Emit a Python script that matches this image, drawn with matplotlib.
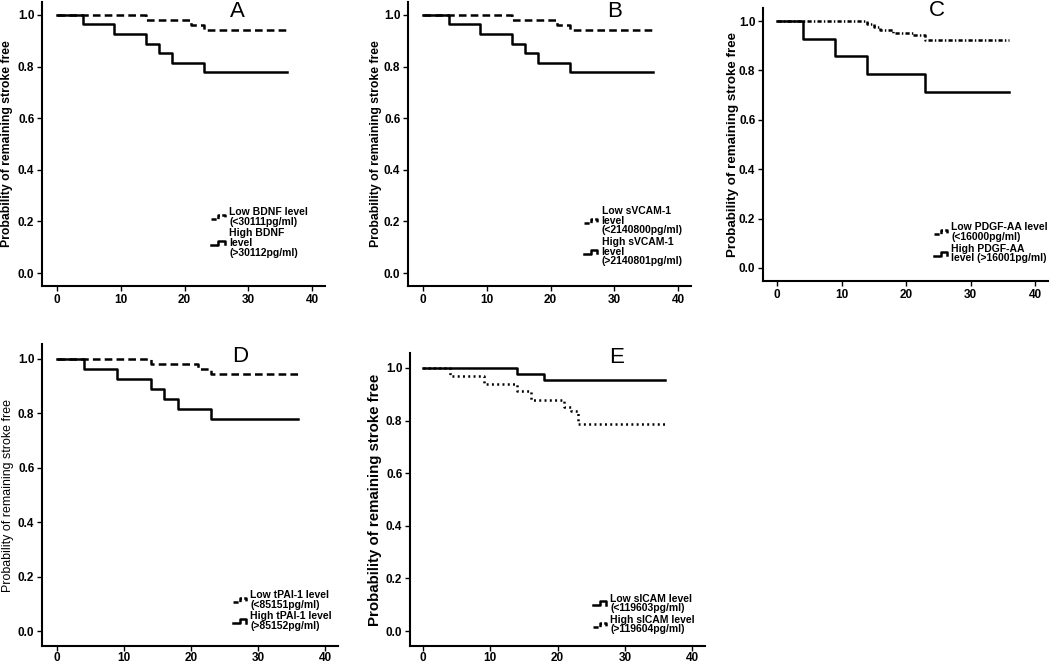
import matplotlib
matplotlib.use("Agg")
import matplotlib.pyplot as plt
from matplotlib.legend_handler import HandlerBase
from matplotlib.lines import Line2D

plt.rcParams["font.family"] = ["Liberation Sans", "DejaVu Sans"]
plt.rcParams["lines.scale_dashes"] = False

# ---- data (months, probability of remaining stroke free) ----
a_low_t = [0, 14, 21, 23, 36]
a_low_s = [1.0, 0.981, 0.962, 0.943, 0.943]
a_high_t = [0, 4, 9, 14, 16, 18, 23, 36]
a_high_s = [1.0, 0.963, 0.926, 0.889, 0.852, 0.815, 0.778, 0.778]

b_low_t = [0, 14, 21, 23, 36]
b_low_s = [1.0, 0.981, 0.962, 0.943, 0.943]
b_high_t = [0, 4, 9, 14, 16, 18, 23, 36]
b_high_s = [1.0, 0.963, 0.926, 0.889, 0.852, 0.815, 0.778, 0.778]

c_low_t = [0, 14, 15, 16, 18, 21, 23, 36]
c_low_s = [1.0, 0.988, 0.977, 0.964, 0.953, 0.943, 0.923, 0.923]
c_high_t = [0, 4, 9, 14, 23, 36]
c_high_s = [1.0, 0.929, 0.857, 0.786, 0.714, 0.714]

d_low_t = [0, 14, 21, 23, 36]
d_low_s = [1.0, 0.981, 0.962, 0.943, 0.943]
d_high_t = [0, 4, 9, 14, 16, 18, 23, 36]
d_high_s = [1.0, 0.963, 0.926, 0.889, 0.852, 0.815, 0.778, 0.778]

e_low_t = [0, 14, 18, 36]
e_low_s = [1.0, 0.978, 0.956, 0.956]
e_high_t = [0, 4, 9, 14, 16, 21, 22, 23, 36]
e_high_s = [1.0, 0.971, 0.941, 0.912, 0.880, 0.850, 0.835, 0.787, 0.787]

labels_a = ["Low BDNF level\n(<30111pg/ml)", "High BDNF\nlevel\n(>30112pg/ml)"]
labels_b = ["Low sVCAM-1\nlevel\n(<2140800pg/ml)", "High sVCAM-1\nlevel\n(>2140801pg/ml)"]
labels_c = ["Low PDGF-AA level\n(<16000pg/ml)", "High PDGF-AA\nlevel (>16001pg/ml)"]
labels_d = ["Low tPAI-1 level\n(<85151pg/ml)", "High tPAI-1 level\n(>85152pg/ml)"]
labels_e = ["Low sICAM level\n(<119603pg/ml)", "High sICAM level\n(>119604pg/ml)"]

x_ticks = [0, 10, 20, 30, 40]
y_ticks = [0.0, 0.2, 0.4, 0.6, 0.8, 1.0]

W, H = 1050, 665

DASHED = (0, (5.5, 3.0))
DASHDOT = (0, (3.0, 1.6, 1.0, 1.6))
DOTTED = (0, (1.4, 2.4))


class StepHandler(HandlerBase):
    """Draw the legend key as a little step, like SPSS survival plots"""

    def create_artists(self, legend, orig_handle, xdescent, ydescent,
                       width, height, fontsize, trans):
        x0, y0 = -xdescent, -ydescent
        xs = [x0, x0 + 0.45 * width, x0 + 0.45 * width, x0 + 0.85 * width, x0 + 0.85 * width]
        ys = [y0 + 0.25 * height, y0 + 0.25 * height, y0 + 0.8 * height,
              y0 + 0.8 * height, y0 + 0.35 * height]
        line = Line2D(xs, ys, color="black", linewidth=orig_handle.get_linewidth(),
                      linestyle=orig_handle.get_linestyle())
        line.set_transform(trans)
        return [line]


def px_rect(left, right, top, bottom):
    return [left / W, 1 - bottom / H, (right - left) / W, (bottom - top) / H]


fig = plt.figure(figsize=(W / 100, H / 100), dpi=100)

panels = [
    # letter, rect, xlim, ylim, curves, labels, legend anchor, letter pos,
    # ylabel x, ylabel size, ylabel weight, x tick pad
    ("A", px_rect(42, 325, 2, 286), (-2.35, 42.0), (-0.05, 1.05),
     [(a_low_t, a_low_s, DASHED), (a_high_t, a_high_s, "-")], labels_a,
     (0.94, 0.10), (0.69, 0.965), -0.102, 8.8, "bold", 2.5),
    ("B", px_rect(408, 691, 2, 286), (-2.35, 42.0), (-0.05, 1.05),
     [(b_low_t, b_low_s, DASHED), (b_high_t, b_high_s, "-")], labels_b,
     (0.97, 0.07), (0.73, 0.965), -0.092, 8.8, "bold", 2.5),
    ("C", px_rect(763, 1048, 8, 281), (-2.17, 42.0), (-0.053, 1.053),
     [(c_low_t, c_low_s, DASHDOT), (c_high_t, c_high_s, "-")], labels_c,
     (1.0, 0.065), (0.61, 0.99), -0.084, 9.6, "bold", 2.5),
    ("D", px_rect(42, 338, 344, 646), (-2.24, 41.9), (-0.055, 1.055),
     [(d_low_t, d_low_s, DASHED), (d_high_t, d_high_s, "-")], labels_d,
     (0.98, 0.05), (0.67, 0.957), -0.095, 8.9, "normal", 0.8),
    ("E", px_rect(410, 705, 353, 646), (-1.93, 41.9), (-0.057, 1.057),
     [(e_low_t, e_low_s, "-"), (e_high_t, e_high_s, DOTTED)], labels_e,
     (0.966, 0.04), (0.70, 0.986), -0.095, 10.8, "bold", 0.8),
]

for (letter, rect, xlim, ylim, curves, labels, anchor, letter_pos,
     ylab_x, ysize, yweight, xpad) in panels:
    ax = fig.add_axes(rect)
    handles = []
    for t, s, ls in curves:
        (ln,) = ax.step(t, s, where="post", color="black", linewidth=1.8, linestyle=ls)
        handles.append(ln)

    ax.set_xlim(*xlim)
    ax.set_ylim(*ylim)
    ax.set_xticks(x_ticks)
    ax.set_yticks(y_ticks)
    ax.set_yticklabels([f"{v:.1f}" for v in y_ticks])
    for side in ["top", "right"]:
        ax.spines[side].set_visible(False)
    for side in ["left", "bottom"]:
        ax.spines[side].set_linewidth(1.5)
    ax.tick_params(axis="both", length=3.5, width=1.0, labelsize=8.5, pad=2)
    ax.tick_params(axis="x", pad=xpad)
    for lab in ax.get_xticklabels() + ax.get_yticklabels():
        lab.set_fontweight("bold")

    ax.set_ylabel("Probability of remaining stroke free", fontsize=ysize,
                  fontweight=yweight)
    ax.yaxis.set_label_coords(ylab_x, 0.5)

    ax.text(letter_pos[0], letter_pos[1], letter, transform=ax.transAxes,
            fontsize=16, ha="center", va="center")

    leg = ax.legend(handles, labels, handler_map={Line2D: StepHandler()},
                    loc="lower right", bbox_to_anchor=anchor, frameon=False,
                    prop={"weight": "bold", "size": 7.5}, borderpad=0,
                    borderaxespad=0, handlelength=1.5, handletextpad=0.2,
                    labelspacing=0.15)
    for txt in leg.get_texts():
        txt.set_linespacing(0.95)

fig.savefig("out.png", dpi=100)
